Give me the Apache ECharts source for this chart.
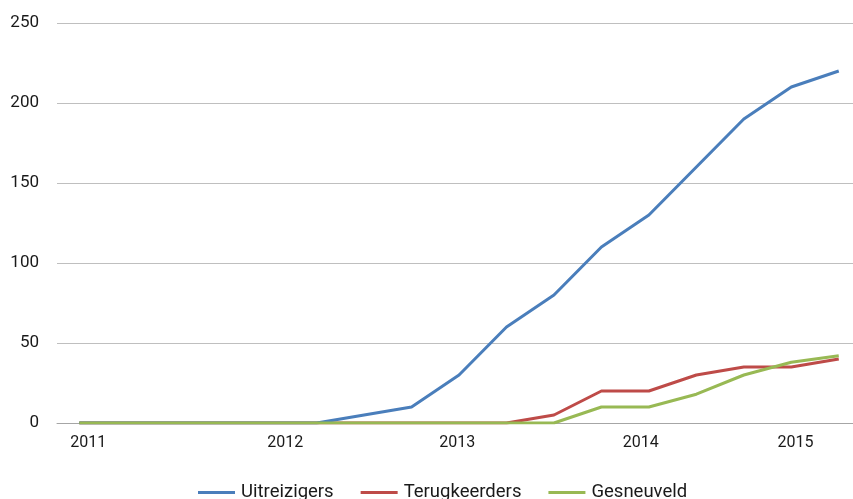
<!DOCTYPE html>
<html>
<head>
<meta charset="utf-8">
<script src="https://cdn.jsdelivr.net/npm/echarts@6/dist/echarts.min.js"></script>
<style>html,body{margin:0;padding:0;background:#fff}#c{width:853px;height:499px}</style>
</head>
<body>
<div id="c"></div>
<script>
// period index of each observation (evenly spaced reporting moments)
const periods = [0,1,2,3,4,5,6,7,8,9,10,11,12,13,14,15,16];
const uitreizigers  = [0,0,0,0,0,0,5,10,30,60,80,110,130,160,190,210,220];
const terugkeerders = [0,0,0,0,0,0,0,0,0,0,5,20,20,30,35,35,40];
const gesneuveld    = [0,0,0,0,0,0,0,0,0,0,0,10,10,18,30,38,42];
const seriesNames = ['Uitreizigers','Terugkeerders','Gesneuveld'];
// year labels and where they sit along the period axis
const yearLabels = ['2011','2012','2013','2014','2015'];
const yearPositions = [0.19, 4.34, 7.96, 11.83, 15.09];
const yTicks = [0,50,100,150,200,250];

const colors = ['#4A7EBB','#BE4B48','#98B954'];
const font = 'Roboto';
const pair = (vals) => periods.map((p,i)=>[p, vals[i]]);

const chart = echarts.init(document.getElementById('c'), null, {renderer:'canvas'});
chart.setOption({
  animation:false,
  color: colors,
  grid:{left:57, right:0, top:23, bottom:76, containLabel:false},
  xAxis:{
    type:'value', min:-0.47, max:16.3,
    splitLine:{show:false},
    axisLine:{show:true, lineStyle:{color:'#A6A6A6', width:1}},
    axisTick:{show:false},
    axisLabel:{
      customValues: yearPositions,
      formatter:(v)=>{ const i = yearPositions.findIndex(p=>Math.abs(p-v)<1e-6); return i>=0?yearLabels[i]:''; },
      color:'#1a1a1a', fontFamily:font, fontSize:16, margin:12
    }
  },
  yAxis:{
    type:'value', min:yTicks[0], max:yTicks[yTicks.length-1], interval:50,
    axisLine:{show:false}, axisTick:{show:false},
    splitLine:{lineStyle:{color:'#BFBFBF', width:1}},
    axisLabel:{color:'#1a1a1a', fontFamily:font, fontSize:17, margin:18}
  },
  legend:{
    data: seriesNames, bottom:-8, left:193,
    icon:'rect', itemWidth:37, itemHeight:3, itemGap:27,
    textStyle:{color:'#1a1a1a', fontFamily:font, fontSize:18.5, padding:[0,0,0,1]}
  },
  series:[
    {name:seriesNames[0], type:'line', data:pair(uitreizigers), symbol:'none', lineStyle:{width:3}, z:3},
    {name:seriesNames[1], type:'line', data:pair(terugkeerders), symbol:'none', lineStyle:{width:3}, z:2},
    {name:seriesNames[2], type:'line', data:pair(gesneuveld), symbol:'none', lineStyle:{width:3}, z:4}
  ]
});
</script>
</body>
</html>
